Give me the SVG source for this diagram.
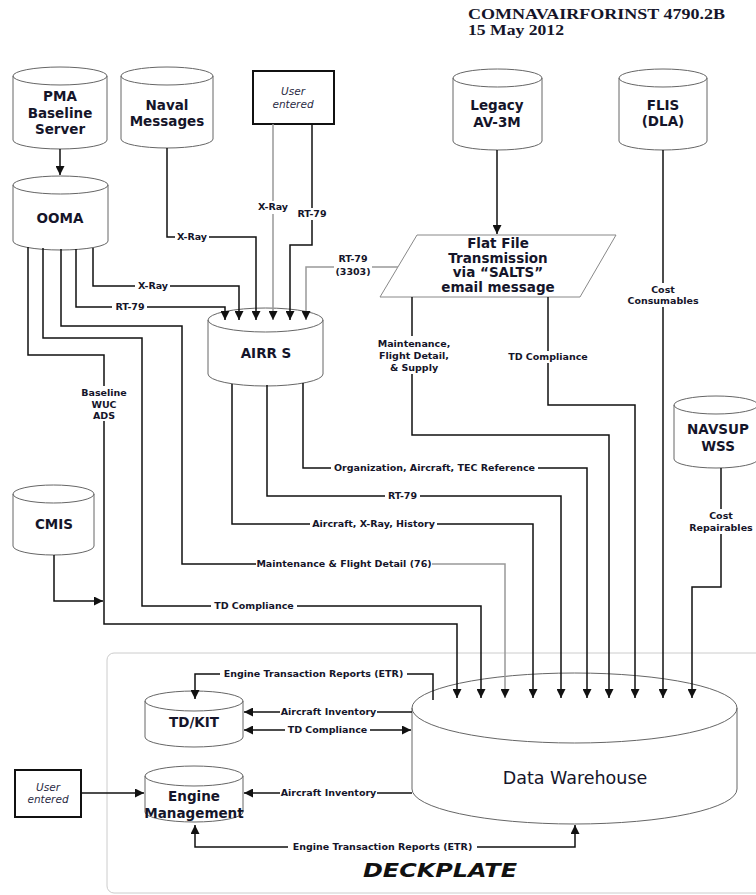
<svg xmlns="http://www.w3.org/2000/svg" width="756" height="895" viewBox="0 0 756 895">
<defs>
<style>
.cyl{fill:#fff;stroke:#666;stroke-width:1}
.arc{fill:none;stroke:#666;stroke-width:1}
.box{fill:#fff;stroke:#111;stroke-width:2}
.n{font-family:"DejaVu Sans","Liberation Sans",sans-serif;font-weight:bold;font-size:13.5px;text-anchor:middle;fill:#15152a}
.l{font-family:"DejaVu Sans","Liberation Sans",sans-serif;font-weight:bold;font-size:9.5px;text-anchor:middle;fill:#15152a}
.u{font-family:"DejaVu Sans","Liberation Sans",sans-serif;font-style:italic;font-size:10.5px;text-anchor:middle;fill:#2a2a44}
.c{fill:none;stroke:#111;stroke-width:1.5}
.g{fill:none;stroke:#999;stroke-width:1.5}
.a{marker-end:url(#ah)}
</style>
<marker id="ah" markerUnits="userSpaceOnUse" markerWidth="9" markerHeight="9" refX="9" refY="4.5" orient="auto">
<path d="M0,0 L9,4.5 L0,9 z" fill="#111"/>
</marker>
</defs>
<rect width="756" height="895" fill="#fff"/>

<g id="header" font-family="'Liberation Serif',serif" font-weight="bold" font-size="15" fill="#15152a">
<text x="468" y="19" textLength="257" lengthAdjust="spacingAndGlyphs">COMNAVAIRFORINST 4790.2B</text>
<text x="468" y="35" textLength="96" lengthAdjust="spacingAndGlyphs">15 May 2012</text>
</g>

<g id="deckplate">
<rect x="107" y="653" width="660" height="240" rx="7" fill="none" stroke="#ccc" stroke-width="1"/>
<text x="363" y="877" font-family="'DejaVu Sans',sans-serif" font-weight="bold" font-style="italic" font-size="20" textLength="154" lengthAdjust="spacingAndGlyphs" fill="#111">DECKPLATE</text>
</g>

<g id="pma">
<path class="cyl" d="M13,76 A47,9 0 0 1 107,76 V140 A47,9 0 0 1 13,140 Z"/>
<path class="arc" d="M13,76 A47,9 0 0 0 107,76"/>
<text class="n" x="60" y="101">PMA</text>
<text class="n" x="60" y="118">Baseline</text>
<text class="n" x="60" y="134">Server</text>
</g>

<g id="naval">
<path class="cyl" d="M121,76 A46,9 0 0 1 213,76 V139 A46,9 0 0 1 121,139 Z"/>
<path class="arc" d="M121,76 A46,9 0 0 0 213,76"/>
<text class="n" x="167" y="110">Naval</text>
<text class="n" x="167" y="126">Messages</text>
</g>

<g id="user1">
<rect class="box" x="253" y="71" width="81" height="53"/>
<text class="u" x="293" y="95">User</text>
<text class="u" x="293" y="108">entered</text>
</g>

<g id="legacy">
<path class="cyl" d="M453,78 A44.5,9 0 0 1 542,78 V141 A44.5,9 0 0 1 453,141 Z"/>
<path class="arc" d="M453,78 A44.5,9 0 0 0 542,78"/>
<text class="n" x="497" y="110">Legacy</text>
<text class="n" x="497" y="127">AV-3M</text>
</g>

<g id="flis">
<path class="cyl" d="M619,78 A44,9 0 0 1 707,78 V141 A44,9 0 0 1 619,141 Z"/>
<path class="arc" d="M619,78 A44,9 0 0 0 707,78"/>
<text class="n" x="663" y="110">FLIS</text>
<text class="n" x="663" y="126">(DLA)</text>
</g>

<g id="ooma">
<path class="cyl" d="M13,185 A47.5,9 0 0 1 108,185 V241 A47.5,9 0 0 1 13,241 Z"/>
<path class="arc" d="M13,185 A47.5,9 0 0 0 108,185"/>
<text class="n" x="60" y="223">OOMA</text>
</g>

<g id="flatfile">
<polygon points="417,235 616,235 580,297 380,297" fill="#fff" stroke="#888" stroke-width="1"/>
<text class="n" x="498" y="248" font-size="12.5">Flat File</text>
<text class="n" x="498" y="262.5" font-size="12.5">Transmission</text>
<text class="n" x="498" y="277" font-size="12.5">via “SALTS”</text>
<text class="n" x="498" y="291.5" font-size="12.5">email message</text>
</g>

<g id="airrs">
<path class="cyl" d="M208,320 A57.5,12 0 0 1 323,320 V374 A57.5,12 0 0 1 208,374 Z"/>
<path class="arc" d="M208,320 A57.5,12 0 0 0 323,320"/>
<text class="n" x="266" y="358">AIRR S</text>
</g>

<g id="navsup">
<path class="cyl" d="M674,405 A42,9 0 0 1 758,405 V459 A42,9 0 0 1 674,459 Z"/>
<path class="arc" d="M674,405 A42,9 0 0 0 758,405"/>
<text class="n" x="718" y="434">NAVSUP</text>
<text class="n" x="718" y="451">WSS</text>
</g>

<g id="cmis">
<path class="cyl" d="M13,494 A40.5,9 0 0 1 94,494 V546 A40.5,9 0 0 1 13,546 Z"/>
<path class="arc" d="M13,494 A40.5,9 0 0 0 94,494"/>
<text class="n" x="54" y="529">CMIS</text>
</g>

<g id="tdkit">
<path class="cyl" d="M145,701 A49,10 0 0 1 243,701 V737 A49,10 0 0 1 145,737 Z"/>
<path class="arc" d="M145,701 A49,10 0 0 0 243,701"/>
<text class="n" x="194" y="727" font-size="12.5">TD/KIT</text>
</g>

<g id="engine">
<path class="cyl" d="M145,776 A49,10 0 0 1 243,776 V812 A49,10 0 0 1 145,812 Z"/>
<path class="arc" d="M145,776 A49,10 0 0 0 243,776"/>
<text class="n" x="194" y="801" font-size="11.5">Engine</text>
<text class="n" x="194" y="818" font-size="11.5">Management</text>
</g>

<g id="user2">
<rect class="box" x="15" y="770" width="66" height="47"/>
<text class="u" x="48" y="791">User</text>
<text class="u" x="48" y="803">entered</text>
</g>

<g id="warehouse">
<path class="cyl" d="M412,708 A162.5,35 0 0 1 737,708 V789 A162.5,35 0 0 1 412,789 Z"/>
<path class="arc" d="M412,708 A162.5,35 0 0 0 737,708"/>
<text x="575" y="784" font-family="'DejaVu Sans',sans-serif" font-size="17.5" text-anchor="middle" fill="#15152a">Data Warehouse</text>
</g>

<g id="connectors">
<path class="c a" d="M60,149 V175"/>
<path class="c" d="M167,148 V237 H175"/>
<path class="c a" d="M209,237 H256 V320"/>
<path class="g" d="M273,124 V201"/>
<path class="g a" d="M273,214 V320"/>
<path class="c" d="M312,124 V208"/>
<path class="c a" d="M312,220 V245 H290 V320"/>
<path class="g" d="M398,267 H372"/>
<path class="g a" d="M334,267 H306 V320"/>
<path class="c" d="M93,248 V286 H135"/>
<path class="c a" d="M170,286 H239 V320"/>
<path class="c" d="M76,249 V307 H112"/>
<path class="c a" d="M147,307 H225 V320"/>
<path class="c" d="M61,249 V326 H182 V564 H256"/>
<path class="g a" d="M432,564 H505 V698"/>
<path class="c" d="M43,248 V338 H142 V606 H211"/>
<path class="c a" d="M297,606 H481 V698"/>
<path class="c" d="M28,247 V355 H104 V386"/>
<path class="c a" d="M104,421 V624 H457 V698"/>
<path class="c a" d="M54,555 V601 H103"/>
<path class="c" d="M232,384 V524 H310"/>
<path class="c a" d="M437,524 H533 V698"/>
<path class="c" d="M267,385 V496 H385"/>
<path class="c a" d="M420,496 H561 V698"/>
<path class="c" d="M303,383 V468 H331"/>
<path class="c a" d="M538,468 H587 V698"/>
<path class="c a" d="M497,150 V234"/>
<path class="c" d="M412,297 V336"/>
<path class="c a" d="M412,374 V435 H609 V698"/>
<path class="c" d="M548,297 V351"/>
<path class="c a" d="M548,363 V405 H635 V698"/>
<path class="c" d="M663,150 V283"/>
<path class="c a" d="M663,307 V698"/>
<path class="c" d="M721,468 V509"/>
<path class="c a" d="M721,534 V587 H692 V698"/>
<path class="c" d="M433,700 V674 H407"/>
<path class="c a" d="M220,674 H195 V699"/>
<path class="c" d="M412,712 H377"/>
<path class="c a" d="M280,712 H244"/>
<path class="c a" d="M285,730 H244"/>
<path class="c a" d="M370,730 H411"/>
<path class="c" d="M412,793 H377"/>
<path class="c a" d="M280,793 H244"/>
<path class="c a" d="M288,847 H195 V825"/>
<path class="c a" d="M477,847 H575 V825"/>
<path class="c a" d="M81,793 H144"/>
</g>

<g id="labels">
<text class="l" x="192" y="240.4">X-Ray</text>
<text class="l" x="273" y="210.4">X-Ray</text>
<text class="l" x="312" y="217.4">RT-79</text>
<text class="l" x="353" y="262.4">RT-79</text>
<text class="l" x="353" y="275.4">(3303)</text>
<text class="l" x="153" y="289.4">X-Ray</text>
<text class="l" x="130" y="310.4">RT-79</text>
<text class="l" x="104" y="396">Baseline</text>
<text class="l" x="104" y="407.5">WUC</text>
<text class="l" x="104" y="419">ADS</text>
<text class="l" x="414" y="347">Maintenance,</text>
<text class="l" x="414" y="359">Flight Detail,</text>
<text class="l" x="414" y="371">&amp; Supply</text>
<text class="l" x="548" y="360.4">TD Compliance</text>
<text class="l" x="663" y="293">Cost</text>
<text class="l" x="663" y="304">Consumables</text>
<text class="l" x="721" y="519">Cost</text>
<text class="l" x="721" y="531">Repairables</text>
<text class="l" x="434.5" y="471.4">Organization, Aircraft, TEC Reference</text>
<text class="l" x="402.5" y="499.4">RT-79</text>
<text class="l" x="373.5" y="527.4">Aircraft, X-Ray, History</text>
<text class="l" x="344" y="567.4">Maintenance &amp; Flight Detail (76)</text>
<text class="l" x="254" y="609.4">TD Compliance</text>
<text class="l" x="313.5" y="677.4">Engine Transaction Reports (ETR)</text>
<text class="l" x="328.5" y="715.4">Aircraft Inventory</text>
<text class="l" x="327.5" y="733.4">TD Compliance</text>
<text class="l" x="328.5" y="796.4">Aircraft Inventory</text>
<text class="l" x="382.5" y="850.4">Engine Transaction Reports (ETR)</text>
</g>
</svg>
